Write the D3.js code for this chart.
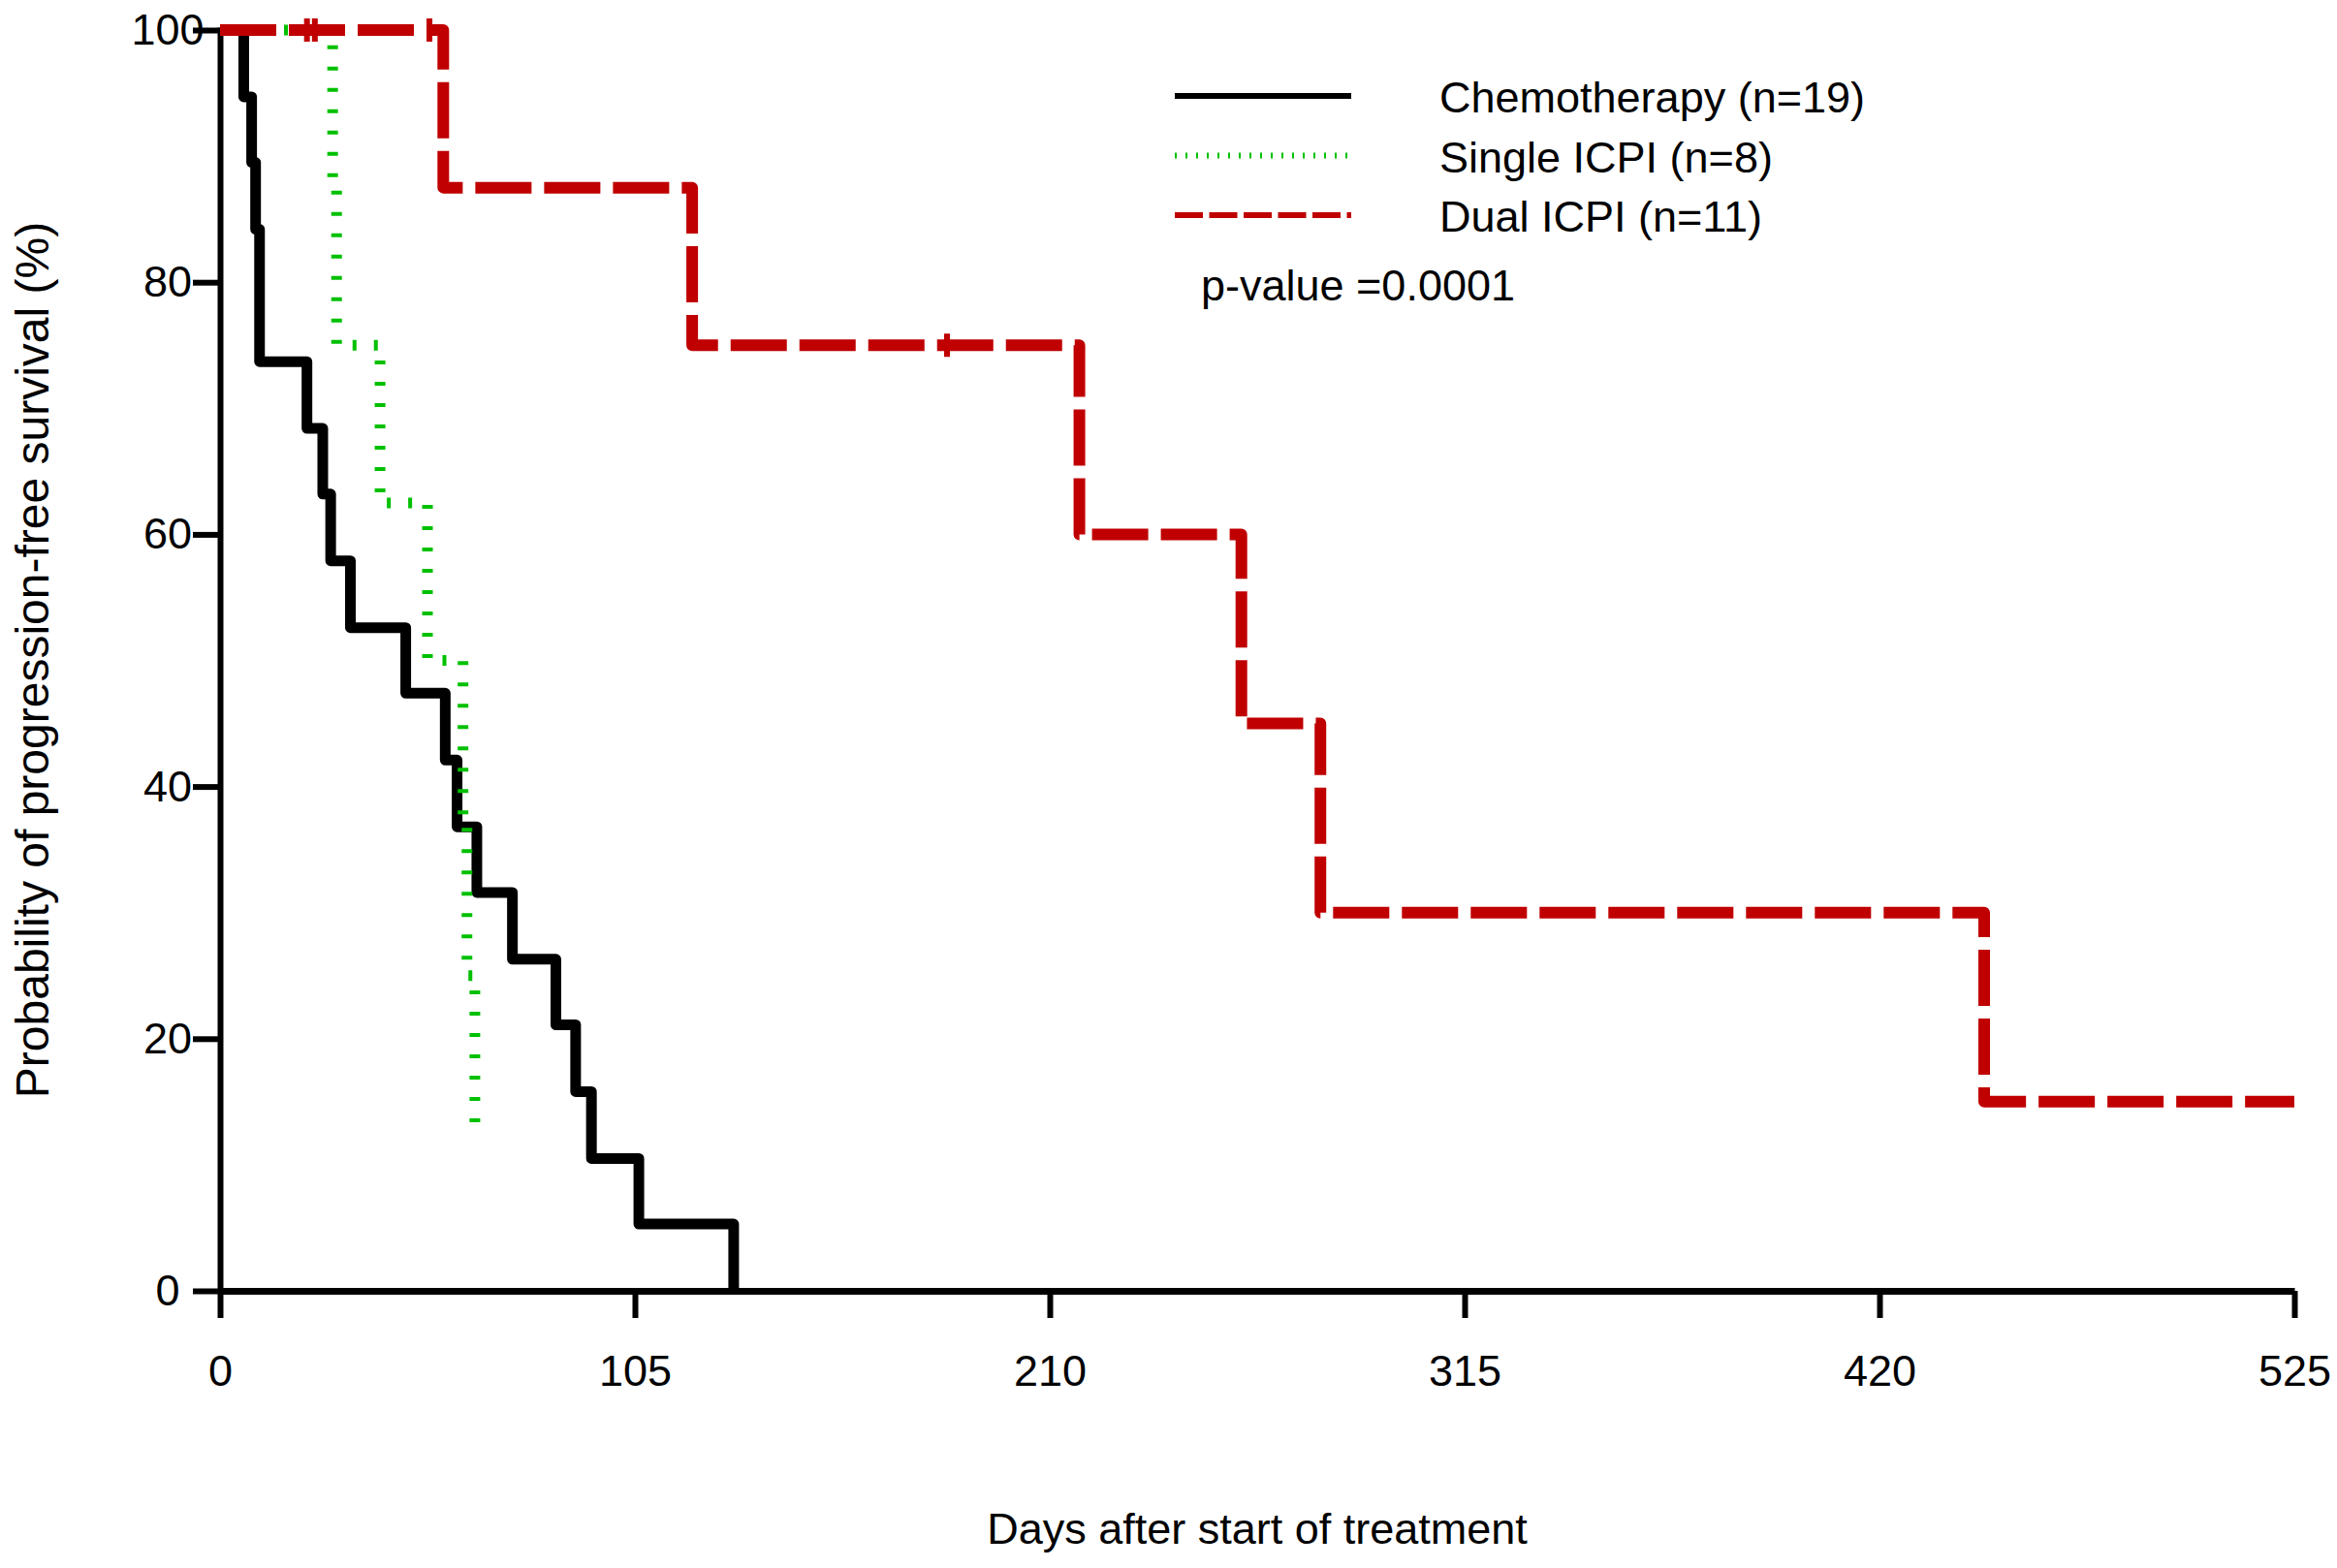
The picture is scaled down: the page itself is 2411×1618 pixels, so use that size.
<!DOCTYPE html>
<html>
<head>
<meta charset="utf-8">
<script src="https://cdn.jsdelivr.net/npm/d3@7"></script>
<style>
	body { margin: 0; background: #fff; }
	svg text { font-family: "Liberation Sans", Arial, sans-serif; fill: #000; }
</style>
</head>
<body>
<svg id="chart"></svg>
<script>
// Kaplan-Meier steps (day, % progression-free)
const chemoDays = [0, 6, 8, 9, 10, 22, 26, 28, 33, 47, 57, 60, 65, 74, 85, 90, 94, 106, 130];
const chemoSurv = [100, 94.7, 89.5, 84.2, 73.7, 68.4, 63.2, 57.9, 52.6, 47.4, 42.1, 36.8, 31.6, 26.3, 21.1, 15.8, 10.5, 5.3, 0];

const singleDays = [0, 28.5, 29.5, 40.5, 52.5, 61.5, 62.5, 64.5];
const singleSurv = [100, 87.5, 75, 62.5, 50, 37.5, 25, 12.5];

const dualDays = [0, 56.5, 119.5, 217.5, 258.5, 278.5, 446.5, 525];
const dualSurv = [100, 87.5, 75, 60, 45, 30, 15, 15];
const dualCensorDays = [22, 24, 53, 184];
const dualCensorSurv = [100, 100, 100, 75];

const xTicks = [0, 105, 210, 315, 420, 525];
const yTicks = [0, 20, 40, 60, 80, 100];
const legendLabels = ["Chemotherapy (n=19)", "Single ICPI (n=8)", "Dual ICPI (n=11)"];
const pValueText = "p-value =0.0001";
const xTitle = "Days after start of treatment";
const yTitle = "Probability of progression-free survival (%)";

const width = 2411,
	height = 1618;
const margin = { top: 31, right: 44, bottom: 286, left: 227 };
const innerW = width - margin.left - margin.right;
const innerH = height - margin.top - margin.bottom;

const svg = d3.select("#chart").attr("width", width).attr("height", height);
svg.append("rect").attr("width", width).attr("height", height).attr("fill", "#fff");

const g = svg.append("g").attr("transform", `translate(${margin.left},${margin.top})`);

const xScale = d3.scaleLinear().domain([0, 525]).range([0, innerW]);
const yScale = d3.scaleLinear().domain([0, 100]).range([innerH, 0]);

// y axis
const yAxis = g.append("g")
	.call(d3.axisLeft(yScale).tickValues(yTicks).tickSize(28).tickSizeOuter(0));
yAxis.select(".domain").attr("stroke-width", 6).attr("stroke-linecap", "square");
yAxis.selectAll(".tick line").attr("stroke-width", 6);
yAxis.selectAll(".tick text")
	.attr("x", -54)
	.attr("text-anchor", "middle")
	.style("font-size", "45px");

// x axis
const xAxis = g.append("g")
	.attr("transform", `translate(0,${innerH})`)
	.call(d3.axisBottom(xScale).tickValues(xTicks).tickSize(28).tickSizeOuter(0).tickPadding(38));
xAxis.select(".domain").attr("stroke-width", 7);
xAxis.selectAll(".tick line").attr("stroke-width", 6);
xAxis.selectAll(".tick text").style("font-size", "45px");

const series = [
	{ days: chemoDays, surv: chemoSurv, color: "#000000", width: 11, dash: null, legendDash: null },
	{ days: singleDays, surv: singleSurv, color: "#00c000", width: 11, dash: "4,18", legendDash: "2,9" },
	{ days: dualDays, surv: dualSurv, color: "#c00000", width: 12, dash: "58,13", legendDash: "29,6.5" },
];

const stepLine = d3.line()
	.x((d) => xScale(d[0]))
	.y((d) => yScale(d[1]))
	.curve(d3.curveStepAfter);

series.forEach((s) => {
	g.append("path")
		.datum(d3.zip(s.days, s.surv))
		.attr("d", stepLine)
		.attr("fill", "none")
		.attr("stroke", s.color)
		.attr("stroke-width", s.width)
		.attr("stroke-dasharray", s.dash)
		.attr("stroke-linejoin", "round");
});

// censor ticks on the dual ICPI curve
g.selectAll(".censor")
	.data(d3.zip(dualCensorDays, dualCensorSurv))
	.join("line")
	.attr("class", "censor")
	.attr("x1", (d) => xScale(d[0]))
	.attr("x2", (d) => xScale(d[0]))
	.attr("y1", (d) => yScale(d[1]) - 12)
	.attr("y2", (d) => yScale(d[1]) + 12)
	.attr("stroke", "#c00000")
	.attr("stroke-width", 6);

// legend
const legend = svg.append("g").attr("transform", "translate(1212,99)");
series.forEach((s, i) => {
	const row = legend.append("g").attr("transform", `translate(0,${i * 61.5})`);
	row.append("line")
		.attr("x1", 0)
		.attr("x2", 182)
		.attr("stroke", s.color)
		.attr("stroke-width", 6)
		.attr("stroke-dasharray", s.legendDash);
	row.append("text")
		.attr("x", 273)
		.attr("y", 17)
		.style("font-size", "45px")
		.text(legendLabels[i]);
});

svg.append("text")
	.attr("x", 1239)
	.attr("y", 310)
	.style("font-size", "45px")
	.text(pValueText);

// axis titles
svg.append("text")
	.attr("x", margin.left + innerW * 0.5)
	.attr("y", 1593)
	.attr("text-anchor", "middle")
	.style("font-size", "45px")
	.text(xTitle);

svg.append("text")
	.attr("transform", "translate(50,681) rotate(-90)")
	.attr("text-anchor", "middle")
	.style("font-size", "48px")
	.text(yTitle);
</script>
</body>
</html>
